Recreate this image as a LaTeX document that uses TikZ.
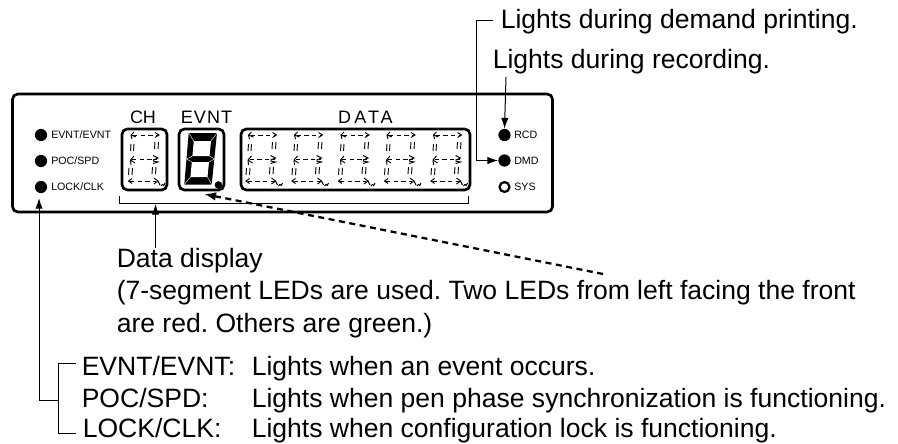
\documentclass[tikz,border=0pt]{standalone}
\usepackage{fontspec}
\setmainfont{Liberation Sans}
\newfontfamily\wideface[LetterSpace=17]{Liberation Sans}
\newfontfamily\midface[LetterSpace=6]{Liberation Sans}
\usetikzlibrary{arrows.meta}
\tikzset{
  main/.style={anchor=base west,inner sep=0pt,font=\fontsize{19.9}{22}\selectfont},
  small/.style={anchor=west,inner sep=0pt,font=\fontsize{8}{9}\selectfont},
  head/.style={anchor=base,inner sep=0pt,font=\fontsize{13.5}{14}\selectfont},
  led/.style={circle,fill=black,inner sep=0pt,minimum size=9.2pt},
  ledo/.style={circle,draw=black,line width=1.7pt,fill=white,inner sep=0pt,minimum size=7.4pt},
  conn/.style={line width=0.75pt,draw=black},
  arr/.style={conn,-{Latex[length=8pt,width=5.5pt]}},
  bezel/.style={draw=black,line width=2pt,rounded corners=4pt},
  ghost/.style={line width=0.7pt,dash pattern=on 3.2pt off 2.6pt},
  tick/.style={line width=0.7pt},
}
\newcommand{\ghostdigit}[1]{%
  \begin{scope}[xshift=#1*0.75pt]
    \draw[ghost] (133,135)--(158,135);
    \draw[ghost] (132,159)--(157,159);
    \draw[ghost] (130,181)--(156,181);
    \draw[tick] (134,132)--(131,135)--(132,139) (131,135)--(136,137);
    \draw[tick] (155,132.5)--(159,135)--(155,137.5);
    \draw[tick] (134,156)--(130.5,160)--(131,165) (130.5,160)--(135,163);
    \draw[tick] (153,155.5)--(158,158)--(153,160) (153,161)--(158,162)--(153,163.5);
    \draw[tick] (132,178.5)--(128.5,181)--(132,183.5);
    \draw[tick] (154,178)--(158,181)--(154,184);
    \draw[tick] (134,144)--(133.5,151) (131,144)--(130.5,151);
    \draw[tick] (158.5,142)--(158,149) (155,142)--(154.5,149);
    \draw[tick] (132.5,168)--(132,175) (129,168)--(128.5,175);
    \draw[tick] (156,167)--(155.5,174) (152.5,167)--(152,174);
    \draw[tick] (158,181)--(160,185) (161,186) arc (180:330:1.4 and 1.6);
    \draw[tick] (163.5,186)--(165,183);
  \end{scope}}
\begin{document}
\begin{tikzpicture}[x=0.75pt,y=-0.75pt]
\useasboundingbox (0,0) rectangle (898,443);
% panel
\draw[bezel] (12.5,94) rectangle (552.5,212);
% display boxes
\draw[bezel] (122,129) rectangle (167,190);
\draw[bezel] (179,129) rectangle (224,190);
\draw[bezel] (241,129) rectangle (470,190);
% ghost digits
\ghostdigit{0}
\ghostdigit{117.5}
\ghostdigit{163.5}
\ghostdigit{210}
\ghostdigit{256}
\ghostdigit{302.5}
% lit digit
\fill[black] (188.7,133)--(217,133)--(211.7,184.5)--(184.3,184.5)--cycle;
\fill[white] (193.8,141)--(211,141)--(209.5,156)--(192.4,156)--cycle;
\fill[white] (191.8,162)--(209,162)--(207.5,177)--(190.4,177)--cycle;
\draw[white,line width=0.3pt] (188.7,133)--(193.8,141) (217,133)--(211,141)
  (184.3,184.5)--(190.4,177) (211.7,184.5)--(207.5,177)
  (186.5,159)--(192.4,156) (186.5,159)--(191.8,162)
  (214.5,159)--(209.5,156) (214.5,159)--(209,162);
\fill[black] (218.5,185) circle (3.8);
% headings
\node[head] (chlbl) at (143,123) {CH};
\node[head] (evlbl) at (206.5,123) {\midface EVNT};
\node[head] (datalbl) at (365.5,123) {\wideface DATA};
% left LEDs
\node[led] (l1) at (41,135) {};
\node[led] (l2) at (41,161) {};
\node[led] (l3) at (41,187) {};
\node[small] (t1) at (51,135) {EVNT/EVNT};
\node[small] (t2) at (51,161) {POC/SPD};
\node[small] (t3) at (51,186.5) {LOCK/CLK};
% right LEDs
\node[led] (r1) at (504.5,135) {};
\node[led] (r2) at (504.5,160.5) {};
\node[ledo] (r3) at (504.5,187) {};
\node[small] (u1) at (514,135) {RCD};
\node[small] (u2) at (514,160.5) {DMD};
\node[small] (u3) at (514,186.5) {SYS};
% texts
\node[main] (dm) at (500.5,28) {Lights during demand printing.};
\node[main] (rc) at (492.5,68) {Lights during recording.};
\node[main] (dd) at (116.5,267) {Data display};
\node[main] (d2) at (116.5,299) {\frenchspacing (7-segment LEDs are used. Two LEDs from left facing the front};
\node[main] (d3) at (116.5,332) {\frenchspacing are red. Others are green.)};
\node[main] (e1) at (81.5,375) {EVNT/EVNT:};
\node[main] (e2) at (81.5,407) {POC/SPD:};
\node[main] (e3) at (82.5,437) {LOCK/CLK:};
\node[main] (f1) at (251.5,375) {Lights when an event occurs.};
\node[main] (f2) at (251.5,407) {Lights when pen phase synchronization is functioning.};
\node[main] (f3) at (251.5,437) {Lights when configuration lock is functioning.};
% bracket
\coordinate (bl) at (119,196);
\coordinate (bbl) at (119,203);
\coordinate (bbr) at (468,203);
\coordinate (br) at (468,196);
\draw[conn] (bl)--(bbl)--(bbr)--(br);
\coordinate (up) at (155.5,248);
\coordinate (upt) at (155.5,204);
\draw[arr] (up)--(upt);
% dashed arrow
\coordinate (dsh) at (603,274);
\coordinate (dst) at (204,194);
\draw[line width=1.7pt,dash pattern=on 4.5pt off 3.4pt,-{Latex[length=9pt,width=6.5pt]}] (dsh)--(dst);
% right connectors
\coordinate (a1) at (493,20);
\coordinate (a2) at (476,20);
\coordinate (a3) at (476,160.5);
\draw[conn,-{Latex[length=8pt,width=5.5pt]}] (a1)--(a2)--(a3)--(r2.west);
\coordinate (rr) at (506,77);
\draw[arr] (rr)--(r1.north);
% left connectors
\coordinate (p1) at (39,198);
\coordinate (p2) at (39,400);
\coordinate (p3) at (58,400);
\draw[conn,{Latex[length=8pt,width=5.5pt]}-] (p1)--(p2)--(p3);
\coordinate (q1) at (76,363);
\coordinate (q2) at (58,363);
\coordinate (q3) at (58,433);
\coordinate (q4) at (76,433);
\draw[conn] (q1)--(q2)--(q3)--(q4);
\end{tikzpicture}
\end{document}
